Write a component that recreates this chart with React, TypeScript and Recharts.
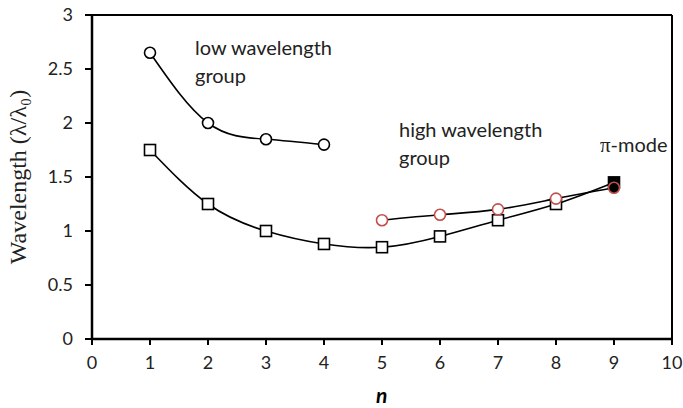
import React from 'react';
import { ComposedChart, Line, XAxis, YAxis, ReferenceLine } from 'recharts';

// n values and wavelength (λ/λ0)
const lowGroupN = [1, 2, 3, 4];
const lowGroupWave = [2.65, 2.0, 1.85, 1.8];

const squareN = [1, 2, 3, 4, 5, 6, 7, 8, 9];
const squareWave = [1.75, 1.25, 1.0, 0.88, 0.85, 0.95, 1.1, 1.25, 1.45];

const highGroupN = [5, 6, 7, 8, 9];
const highGroupWave = [1.1, 1.15, 1.2, 1.3, 1.4];

const xTicks = [0, 1, 2, 3, 4, 5, 6, 7, 8, 9, 10];
const yTicks = [0, 0.5, 1, 1.5, 2, 2.5, 3];

const lowData = lowGroupN.map((n, i) => ({ n, w: lowGroupWave[i] }));
const squareData = squareN.map((n, i) => ({ n, w: squareWave[i] }));
const highData = highGroupN.map((n, i) => ({ n, w: highGroupWave[i] }));

const tickFont = { fontFamily: 'Lato, "Open Sans", sans-serif', fontSize: 18, fill: '#222' };

// open circle marker
const CircleDot = (props: any) => {
  const { cx, cy, index } = props;
  return <circle key={`c-${index}`} cx={cx} cy={cy} r={5.5} fill="#fff" stroke="#000" strokeWidth={1.6} />;
};

// square marker, last one (pi-mode) filled
const SquareDot = (props: any) => {
  const { cx, cy, index } = props;
  const last = index === squareData.length - 1;
  return (
    <rect key={`s-${index}`} x={cx - 5.5} y={cy - 5.5} width={11} height={11}
      fill={last ? '#000' : '#fff'} stroke="#000" strokeWidth={1.6} />
  );
};

// red open circle, last one filled black
const RedDot = (props: any) => {
  const { cx, cy, index } = props;
  const last = index === highData.length - 1;
  return <circle key={`r-${index}`} cx={cx} cy={cy} r={5.5} fill={last ? '#000' : '#fff'} stroke="#c0504d" strokeWidth={1.6} />;
};

const annot: React.CSSProperties = {
  position: 'absolute',
  fontFamily: 'Lato, "Open Sans", sans-serif',
  fontSize: 20,
  color: '#222',
  lineHeight: '27.5px',
  whiteSpace: 'nowrap',
};

const App: React.FC = () => {
  return (
    <div style={{ position: 'relative', width: 683, height: 408, overflow: 'hidden' }}>
      <style>{'body{margin:0}'}</style>
      <ComposedChart width={683} height={408} margin={{ top: 15, right: 11, bottom: 29, left: 32 }}>
        <XAxis
          type="number"
          dataKey="n"
          domain={[0, 10]}
          ticks={xTicks}
          allowDuplicatedCategory={false}
          height={40}
          tick={tickFont}
          tickSize={6}
          tickMargin={11}
          stroke="#000"
          axisLine={{ stroke: '#000', strokeWidth: 2.5 }}
          tickLine={{ stroke: '#000', strokeWidth: 2 }}
        />
        <YAxis
          type="number"
          dataKey="w"
          domain={[0, 3]}
          ticks={yTicks}
          width={60}
          tick={tickFont}
          tickSize={7}
          tickMargin={12}
          axisLine={{ stroke: '#000', strokeWidth: 2.5 }}
          tickLine={{ stroke: '#000', strokeWidth: 2 }}
          label={{
            value: 'Wavelength (λ/λ₀)',
            angle: -90,
            position: 'insideLeft',
            offset: -15,
            style: { fontFamily: '"Liberation Serif", serif', fontSize: 24, fill: '#222', textAnchor: 'middle' },
          }}
        />
        <ReferenceLine y={3} stroke="#000" strokeWidth={2} />
        <ReferenceLine x={10} stroke="#000" strokeWidth={2} />
        <Line data={lowData} dataKey="w" type="natural" stroke="#000" strokeWidth={1.6}
          dot={CircleDot} activeDot={false} isAnimationActive={false} />
        <Line data={squareData} dataKey="w" type="natural" stroke="#000" strokeWidth={1.6}
          dot={SquareDot} activeDot={false} isAnimationActive={false} />
        <Line data={highData} dataKey="w" type="natural" stroke="#000" strokeWidth={1.6}
          dot={RedDot} activeDot={false} isAnimationActive={false} />
      </ComposedChart>
      <div style={{ ...annot, left: 195, top: 34 }}>low wavelength<br />group</div>
      <div style={{ ...annot, left: 399, top: 116 }}>high wavelength<br />group</div>
      <div style={{ ...annot, left: 600, top: 131 }}>
        <span style={{ fontFamily: '"Liberation Serif", serif', fontSize: 21 }}>π</span>-mode
      </div>
      <div style={{ position: 'absolute', left: 376, top: 384, fontFamily: 'Lato, sans-serif', fontSize: 21, lineHeight: '22px', fontWeight: 'bold', fontStyle: 'italic', color: '#000' }}>n</div>
    </div>
  );
};

export default App;
